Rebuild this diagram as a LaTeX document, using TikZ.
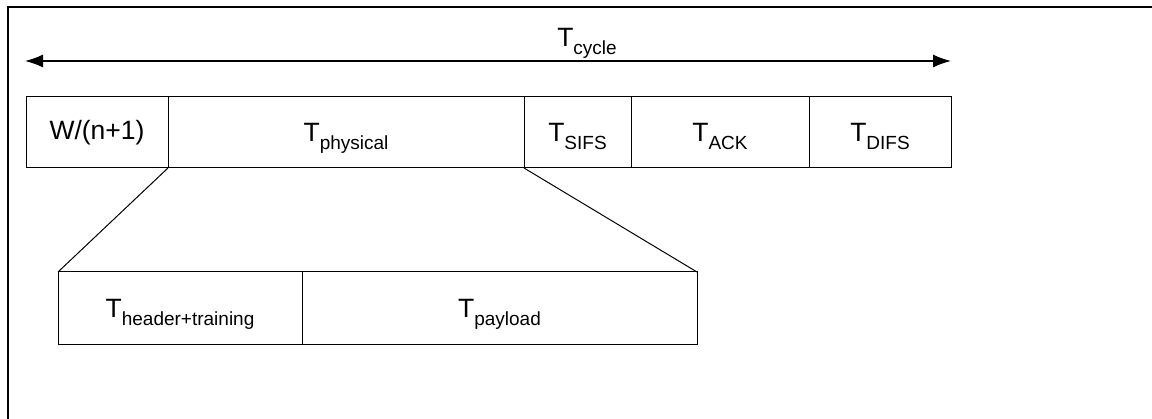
\documentclass[tikz,border=0pt]{standalone}
\usepackage{fontspec}
\setmainfont{Liberation Sans}
\usetikzlibrary{arrows.meta,positioning}

% time symbol with a lowered subscript
\newcommand{\tsub}[1]{T\raisebox{-8pt}[0pt][0pt]{\fontsize{19}{19}\selectfont #1}}

\tikzset{
  slot/.style={shape=rectangle,draw=black,line width=1pt,minimum height=71pt,
    inner sep=0pt,outer sep=0pt,font=\fontsize{26.5}{26.5}\selectfont},
  zoomline/.style={draw=black,line width=1pt},
}

\begin{document}
\begin{tikzpicture}[x=1pt,y=-1pt]
    \useasboundingbox (0,0) rectangle (1152,419);
    % frame
    \draw[line width=2.8pt] (1152,7) -- (8,7) -- (8,419);

    % one cycle
    \coordinate (cs) at (25,61);
    \coordinate (ce) at (951,61);
    \draw[{Latex[length=18pt,width=13pt]}-{Latex[length=18pt,width=13pt]},line width=1.3pt] (cs) -- (ce);
    \node[font=\fontsize{26.5}{26.5}\selectfont] (cycle) at (587,37) {\tsub{cycle}};

    % slots of the cycle
    \node[slot,minimum width=142pt] (W) at (97,132.5) {W/(n+1)};
    \node[slot,minimum width=356pt] (phy) at (346,132.5) {\tsub{physical}};
    \node[slot,minimum width=107pt] (sifs) at (577.5,132.5) {\tsub{SIFS}};
    \node[slot,minimum width=178pt] (ack) at (720,132.5) {\tsub{ACK}};
    \node[slot,minimum width=142pt] (difs) at (880,132.5) {\tsub{DIFS}};

    % physical part in detail
    \node[slot,minimum width=244pt,minimum height=73pt] (hdr) at (180,308.5) {\tsub{header+training}};
    \node[slot,minimum width=395pt,minimum height=73pt] (pay) at (499.5,308.5) {\tsub{payload}};

    \path[zoomline] (phy.south west) -- (hdr.north west);
    \path[zoomline] (phy.south east) -- (pay.north east);
\end{tikzpicture}
\end{document}
